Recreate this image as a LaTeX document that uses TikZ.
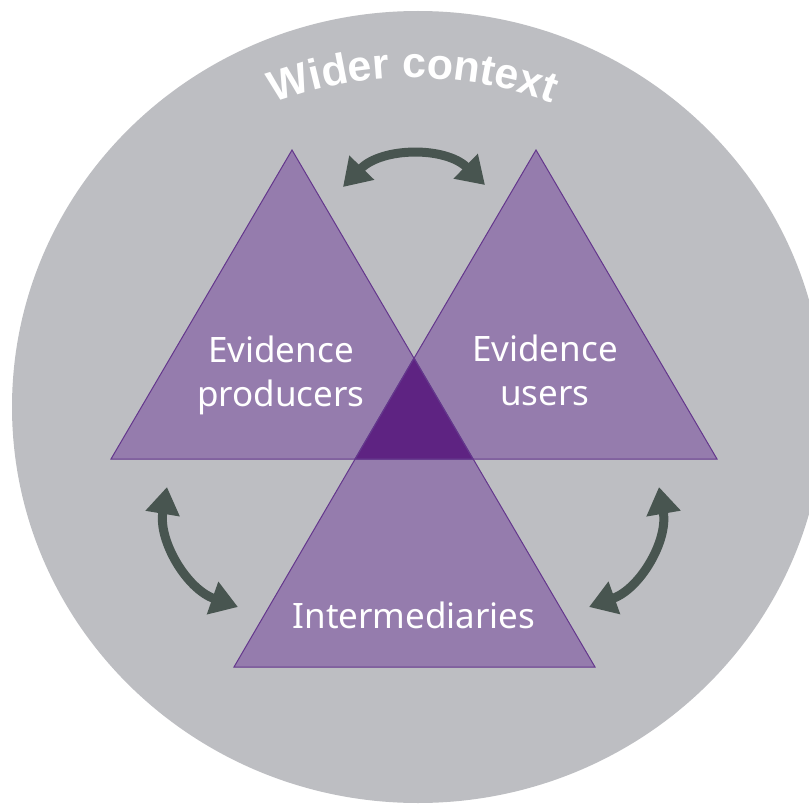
\documentclass[tikz,border=0pt]{standalone}
\usepackage{fontspec}
\setmainfont{Noto Sans}
\newfontfamily\ctxfont{Liberation Sans}
\usetikzlibrary{arrows.meta,decorations.text}
\definecolor{ctxgray}{RGB}{189,190,194}
\definecolor{lightpurple}{RGB}{149,124,173}
\definecolor{darkpurple}{RGB}{94,35,130}
\definecolor{edgepurple}{RGB}{100,55,140}
\definecolor{arrowgray}{RGB}{72,85,80}
\tikzset{
  tri/.style={fill=lightpurple},
  triedge/.style={draw=edgepurple, line width=1pt, line join=miter},
  lbl/.style={text=white, font=\fontsize{35}{44}\selectfont, align=center, inner sep=0pt},
  dblarrow/.style={draw=arrowgray, line width=9pt,
    {Triangle[length=27pt,width=33pt]}-{Triangle[length=27pt,width=33pt]}}
}
\begin{document}
\begin{tikzpicture}[x=1pt,y=1pt]
\useasboundingbox (0,0) rectangle (809,-805);
\clip (0,0) rectangle (809,-805);
% wider context
\fill[ctxgray] (418,-407) ellipse [x radius=406, y radius=396];
\coordinate (ctxstart) at ({413+400*cos(130)},{-478+400*sin(130)});
\path[decorate, decoration={text along path, text align=center, text color=white,
  text={|\ctxfont\bfseries\fontsize{43}{43}\selectfont|Wider context}}]
  (ctxstart) arc[start angle=130, end angle=50, radius=400];
% triangle corners
\coordinate (LA) at (292,-150);
\coordinate (LB) at (111,-459);
\coordinate (LC) at (473,-459);
\coordinate (RA) at (536,-150);
\coordinate (RB) at (355,-459);
\coordinate (RC) at (717,-459);
\coordinate (BA) at (414,-358);
\coordinate (BB) at (234,-667);
\coordinate (BC) at (595,-667);
\fill[tri] (LA) -- (LB) -- (LC) -- cycle;
\fill[tri] (RA) -- (RB) -- (RC) -- cycle;
\fill[tri] (BA) -- (BB) -- (BC) -- cycle;
\fill[darkpurple] (BA) -- (RB) -- (LC) -- cycle;
\draw[triedge] (LA) -- (LB) -- (LC) -- cycle;
\draw[triedge] (RA) -- (RB) -- (RC) -- cycle;
\draw[triedge] (BA) -- (BB) -- (BC) -- cycle;
% labels
\node[lbl] (producers) at (281,-375) {Evidence\\producers};
\node[lbl] (users) at (545,-370) {Evidence\\users};
\node[lbl, anchor=base] (inter) at (414,-628) {Intermediaries};
% arrows
\coordinate (t1) at (343,-187);
\coordinate (t2) at (485,-185);
\coordinate (l1) at (167,-487);
\coordinate (l2) at (238,-607);
\coordinate (r1) at (659,-487);
\coordinate (r2) at (589,-607);
\draw[dblarrow] (t1) to[bend left=45] (t2);
\draw[dblarrow] (l1) to[bend right=40] (l2);
\draw[dblarrow] (r1) to[bend left=40] (r2);
\end{tikzpicture}
\end{document}
